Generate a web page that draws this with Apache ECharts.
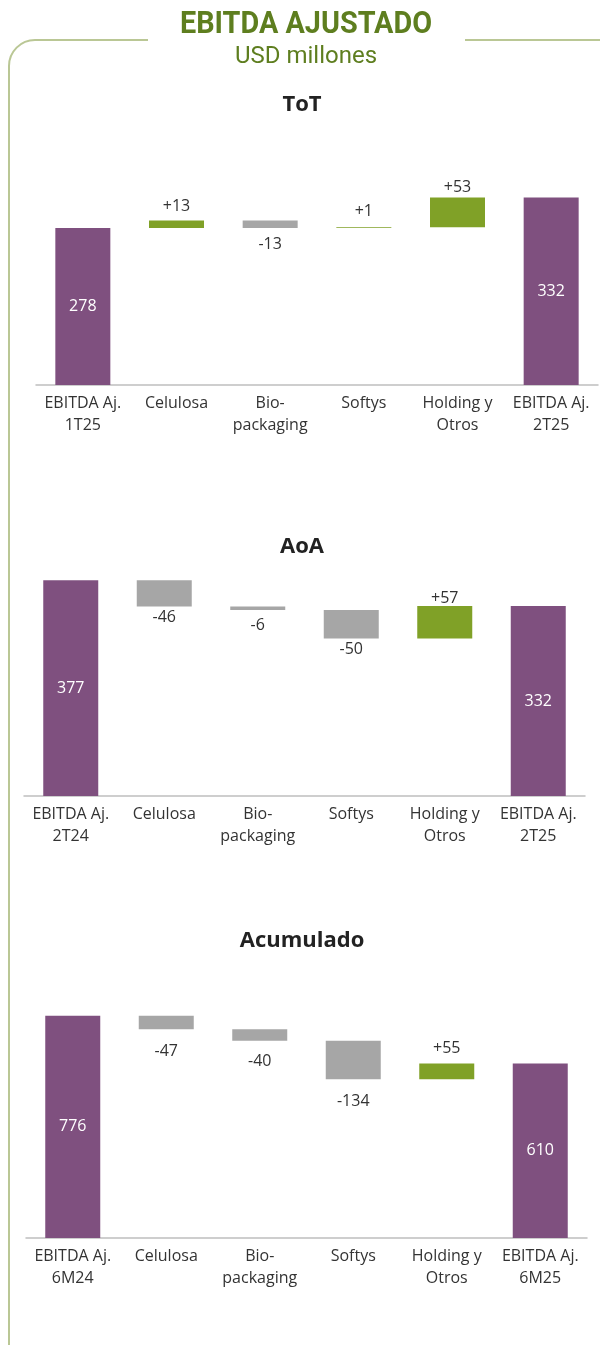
<!DOCTYPE html>
<html>
<head>
<meta charset="utf-8">
<script src="https://cdn.jsdelivr.net/npm/echarts@6/dist/echarts.min.js"></script>
<style>
html,body{margin:0;padding:0;background:#fff;}
#c{width:600px;height:1345px;}
</style>
</head>
<body>
<div id="c"></div>
<script>
const categoriesToT = ['EBITDA Aj.\n1T25', 'Celulosa', 'Bio-\npackaging', 'Softys', 'Holding y\nOtros', 'EBITDA Aj.\n2T25'];
const valuesToT = [278, 13, -13, 1, 53, 332];

const categoriesAoA = ['EBITDA Aj.\n2T24', 'Celulosa', 'Bio-\npackaging', 'Softys', 'Holding y\nOtros', 'EBITDA Aj.\n2T25'];
const valuesAoA = [377, -46, -6, -50, 57, 332];

const categoriesAcum = ['EBITDA Aj.\n6M24', 'Celulosa', 'Bio-\npackaging', 'Softys', 'Holding y\nOtros', 'EBITDA Aj.\n6M25'];
const valuesAcum = [776, -47, -40, -134, 55, 610];

const titles = ['ToT', 'AoA', 'Acumulado'];

const PURPLE = '#7F507F';
const GREEN = '#80A127';
const GRAY = '#A6A6A6';
const TXT = '#333333';
const LABEL_FONT = '"Open Sans", sans-serif';

function waterfall(values, gaps) {
  const n = values.length;
  const base = [], bars = [];
  let run = 0;
  values.forEach((v, i) => {
    if (i === 0 || i === n - 1) {
      base.push(0);
      bars.push({ value: v, itemStyle: { color: PURPLE },
        label: { show: true, position: 'inside', color: '#fff', formatter: String(v) } });
      run = v;
    } else if (v >= 0) {
      base.push(run);
      bars.push({ value: v, itemStyle: { color: GREEN },
        label: { show: true, position: 'top', distance: gaps[i], color: TXT, formatter: '+' + v } });
      run += v;
    } else {
      run += v;
      base.push(run);
      bars.push({ value: -v, itemStyle: { color: GRAY },
        label: { show: true, position: 'bottom', distance: gaps[i], color: TXT, formatter: String(v) } });
    }
  });
  return { base, bars };
}

const charts = [
  { cats: categoriesToT, vals: valuesToT, gaps: [0, 6, 9, 8, 2, 0], left: 36, right: 2, top: 159, bottom: 1345 - 385, max: 400 },
  { cats: categoriesAoA, vals: valuesAoA, gaps: [0, 3, 7, 3, -1, 0], left: 24, right: 15, top: 567, bottom: 1345 - 796, max: 400 },
  { cats: categoriesAcum, vals: valuesAcum, gaps: [0, 14, 13, 14, 7, 0], left: 26, right: 13, top: 1009, bottom: 1345 - 1238, max: 800 }
];

const grid = [], xAxis = [], yAxis = [], series = [];
charts.forEach((c, i) => {
  grid.push({ left: c.left, right: c.right, top: c.top, bottom: c.bottom });
  xAxis.push({
    type: 'category', gridIndex: i, data: c.cats,
    axisLine: { lineStyle: { color: '#BFBFBF', width: 1.5 } },
    axisTick: { show: false },
    axisLabel: { interval: 0, color: TXT, fontSize: 16, fontFamily: LABEL_FONT, lineHeight: 22, margin: 7 }
  });
  yAxis.push({ type: 'value', gridIndex: i, min: 0, max: c.max, show: false, splitLine: { show: false } });
  const w = waterfall(c.vals, c.gaps);
  series.push({
    type: 'bar', xAxisIndex: i, yAxisIndex: i, stack: 's' + i, data: w.base,
    itemStyle: { color: 'transparent' }, barWidth: 55, silent: true
  });
  series.push({
    type: 'bar', xAxisIndex: i, yAxisIndex: i, stack: 's' + i, data: w.bars, barWidth: 55,
    label: { fontSize: 16, fontFamily: LABEL_FONT }
  });
});

const titleY = [105, 547, 941];
const graphic = [
  { type: 'rect', shape: { x: 9, y: 40, width: 640, height: 1360, r: 26 },
    style: { fill: 'none', stroke: '#BAC795', lineWidth: 2 }, z: 1 },
  { type: 'rect', shape: { x: 148, y: 30, width: 317, height: 20 }, style: { fill: '#fff' }, z: 2 },
  { type: 'text', x: 306, y: 25, z: 3, scaleX: 0.93, originX: 0, originY: 0,
    style: { text: 'EBITDA AJUSTADO', fill: '#5E7E1F', font: 'bold 31px Roboto', align: 'center', verticalAlign: 'middle' } },
  { type: 'text', x: 306, y: 57, z: 3,
    style: { text: 'USD millones', fill: '#5E7E1F', font: '24px Roboto', align: 'center', verticalAlign: 'middle' } }
];
titles.forEach((t, i) => {
  graphic.push({ type: 'text', x: 302, y: titleY[i], z: 3,
    style: { text: t, fill: '#222', font: 'bold 22px "Open Sans"', align: 'center', verticalAlign: 'middle' } });
});

const chart = echarts.init(document.getElementById('c'), null, { renderer: 'canvas' });
chart.setOption({
  animation: false,
  backgroundColor: '#fff',
  grid, xAxis, yAxis, series, graphic
});
</script>
</body>
</html>
